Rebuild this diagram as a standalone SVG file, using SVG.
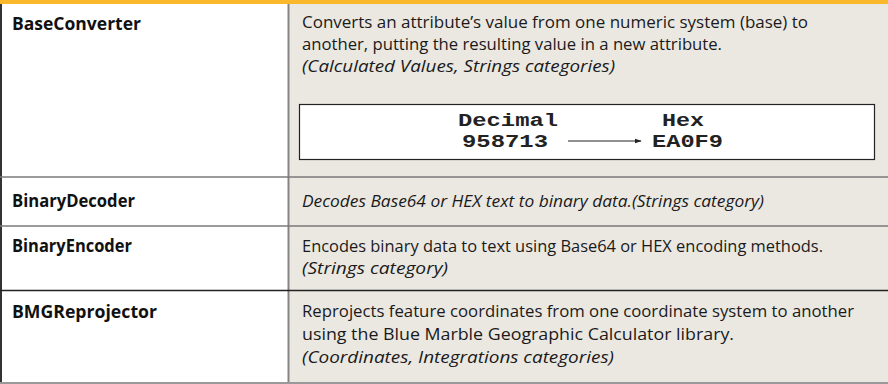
<svg xmlns="http://www.w3.org/2000/svg" width="888" height="384" viewBox="0 0 888 384">
  <defs>
    <style>
      .name { font-family: "Open Sans", "Liberation Sans", sans-serif; font-weight: 700; font-size: 17px; fill: #111; }
      .desc { font-family: "Open Sans", "Liberation Sans", sans-serif; font-size: 16px; fill: #1a1a1a; }
      .cat { font-style: italic; }
      .mono { font-family: "Liberation Mono", "DejaVu Sans Mono", monospace; font-weight: 700; font-size: 18px; fill: #222; }
      .rule-grey { stroke: #7a7a7a; stroke-width: 1.5; }
      .rule-dark { stroke: #222; stroke-width: 1.5; }
    </style>
    <marker id="arrowhead" viewBox="0 0 10 10" refX="9" refY="5" markerWidth="7" markerHeight="7" markerUnits="userSpaceOnUse" orient="auto">
      <path d="M0,1.5 L10,5 L0,8.5 Z" fill="#222"/>
    </marker>
  </defs>

  <!-- table background -->
  <rect x="0" y="0" width="888" height="384" fill="#ffffff"/>
  <rect x="288" y="0" width="600" height="384" fill="#ebe8e2"/>
  <rect x="0" y="0" width="888" height="4" fill="#fbb82c"/>

  <!-- frame and row rules -->
  <g id="grid">
    <line x1="1" y1="4" x2="1" y2="384" stroke="#333" stroke-width="2"/>
    <line x1="288.5" y1="4" x2="288.5" y2="384" stroke="#858585" stroke-width="2"/>
    <line x1="0" y1="177" x2="888" y2="177" class="rule-grey"/>
    <line x1="0" y1="226" x2="888" y2="226" class="rule-grey"/>
    <line x1="0" y1="290.5" x2="888" y2="290.5" class="rule-dark"/>
    <line x1="0" y1="383" x2="888" y2="383" stroke="#999" stroke-width="2"/>
  </g>

  <g id="row-baseconverter">
    <text class="name" x="12" y="30" textLength="129" lengthAdjust="spacingAndGlyphs">BaseConverter</text>
    <text class="desc" x="302" y="28" textLength="506" lengthAdjust="spacingAndGlyphs">Converts an attribute’s value from one numeric system (base) to</text>
    <text class="desc" x="302" y="50" textLength="420" lengthAdjust="spacingAndGlyphs">another, putting the resulting value in a new attribute.</text>
    <text class="desc cat" x="302" y="72" textLength="313" lengthAdjust="spacingAndGlyphs">(Calculated Values, Strings categories)</text>
    <g id="example">
      <rect x="299.5" y="104.5" width="575" height="55" fill="#ffffff" stroke="#222" stroke-width="1.2"/>
      <text class="mono" x="458" y="126" textLength="100" lengthAdjust="spacingAndGlyphs">Decimal</text>
      <text class="mono" x="662" y="126" textLength="42" lengthAdjust="spacingAndGlyphs">Hex</text>
      <text class="mono" x="462" y="147" textLength="86" lengthAdjust="spacingAndGlyphs">958713</text>
      <text class="mono" x="652" y="147" textLength="71" lengthAdjust="spacingAndGlyphs">EA0F9</text>
    </g>
  </g>

  <g id="connectors">
    <line x1="568" y1="141" x2="641" y2="141" stroke="#222" stroke-width="1.2" marker-end="url(#arrowhead)"/>
  </g>

  <g id="row-binarydecoder">
    <text class="name" x="12" y="207" textLength="123" lengthAdjust="spacingAndGlyphs">BinaryDecoder</text>
    <text class="desc cat" x="302" y="207" textLength="462" lengthAdjust="spacingAndGlyphs">Decodes Base64 or HEX text to binary data.(Strings category)</text>
  </g>

  <g id="row-binaryencoder">
    <text class="name" x="12" y="252" textLength="120" lengthAdjust="spacingAndGlyphs">BinaryEncoder</text>
    <text class="desc" x="302" y="252" textLength="521" lengthAdjust="spacingAndGlyphs">Encodes binary data to text using Base64 or HEX encoding methods.</text>
    <text class="desc cat" x="302" y="274" textLength="146" lengthAdjust="spacingAndGlyphs">(Strings category)</text>
  </g>

  <g id="row-bmgreprojector">
    <text class="name" x="12" y="318" textLength="145" lengthAdjust="spacingAndGlyphs">BMGReprojector</text>
    <text class="desc" x="302" y="317" textLength="552" lengthAdjust="spacingAndGlyphs">Reprojects feature coordinates from one coordinate system to another</text>
    <text class="desc" x="302" y="340" textLength="432" lengthAdjust="spacingAndGlyphs">using the Blue Marble Geographic Calculator library.</text>
    <text class="desc cat" x="302" y="363" textLength="312" lengthAdjust="spacingAndGlyphs">(Coordinates, Integrations categories)</text>
  </g>
</svg>
